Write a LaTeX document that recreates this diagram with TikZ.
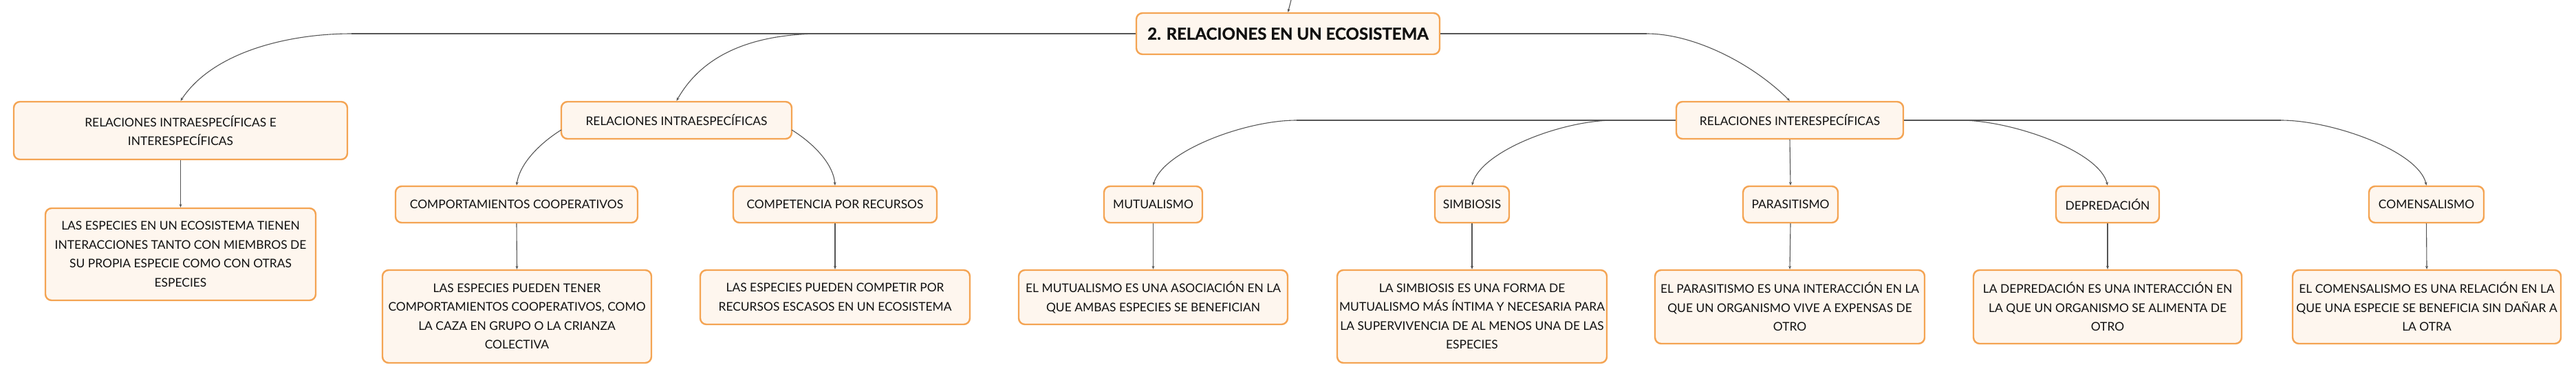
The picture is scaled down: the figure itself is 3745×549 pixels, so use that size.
\documentclass[tikz,border=0pt]{standalone}
\usepackage{fontspec}
\setmainfont{Lato}
\usetikzlibrary{arrows.meta}
\definecolor{boxline}{HTML}{F4A453}
\definecolor{boxfill}{HTML}{FEF6EE}
\definecolor{conn}{HTML}{555555}
\definecolor{txt}{HTML}{111111}
\begin{document}
\begin{tikzpicture}[x=1pt,y=-1pt,
  box/.style={draw=boxline, line width=2.4pt, fill=boxfill, rounded corners=9pt,
    align=center, inner sep=0pt, text=txt, font=\fontsize{17.4}{27.5}\selectfont},
  smallbox/.style={box, minimum height=53pt},
  con/.style={draw=conn, line width=1.1pt, -{Stealth[length=5pt,width=4pt]}},
  trunk/.style={draw=conn, line width=2pt},
]
\useasboundingbox (0,0) rectangle (3745,549);

% ---- nodes ----
\node[box, minimum width=441pt, minimum height=60pt,
      font=\fontsize{24}{28}\selectfont\bfseries\addfontfeatures{FakeBold=1}] (root) at (1872.5,49) {2. RELACIONES EN UN ECOSISTEMA};

\node[box, minimum width=485pt, minimum height=84pt] (A) at (262.5,190)
  {RELACIONES INTRAESPECÍFICAS E\\INTERESPECÍFICAS};
\node[box, minimum width=393pt, minimum height=134pt] (A1) at (262.5,370)
  {LAS ESPECIES EN UN ECOSISTEMA TIENEN\\INTERACCIONES TANTO CON MIEMBROS DE\\SU PROPIA ESPECIE COMO CON OTRAS\\ESPECIES};

\node[box, minimum width=335pt, minimum height=54pt] (B) at (983.5,175) {RELACIONES INTRAESPECÍFICAS};
\node[smallbox, minimum width=352pt] (B1) at (751,297.5) {COMPORTAMIENTOS COOPERATIVOS};
\node[box, minimum width=391pt, minimum height=135pt] (B1a) at (751.5,460.5)
  {LAS ESPECIES PUEDEN TENER\\COMPORTAMIENTOS COOPERATIVOS, COMO\\LA CAZA EN GRUPO O LA CRIANZA\\COLECTIVA};
\node[smallbox, minimum width=296pt] (B2) at (1214,297.5) {COMPETENCIA POR RECURSOS};
\node[box, minimum width=392pt, minimum height=79pt] (B2a) at (1214,432.5)
  {LAS ESPECIES PUEDEN COMPETIR POR\\RECURSOS ESCASOS EN UN ECOSISTEMA};

\node[box, minimum width=330pt, minimum height=54pt] (C) at (2602,175) {RELACIONES INTERESPECÍFICAS};

\node[smallbox, minimum width=143pt] (C1) at (1676.5,297.5) {MUTUALISMO};
\node[box, minimum width=391pt, minimum height=79pt] (C1a) at (1676.5,432.5)
  {EL MUTUALISMO ES UNA ASOCIACIÓN EN LA\\QUE AMBAS ESPECIES SE BENEFICIAN};

\node[smallbox, minimum width=108pt] (C2) at (2140,297.5) {SIMBIOSIS};
\node[box, minimum width=392pt, minimum height=135pt] (C2a) at (2140,460.5)
  {LA SIMBIOSIS ES UNA FORMA DE\\MUTUALISMO MÁS ÍNTIMA Y NECESARIA PARA\\LA SUPERVIVENCIA DE AL MENOS UNA DE LAS\\ESPECIES};

\node[smallbox, minimum width=138pt] (C3) at (2603,297.5) {PARASITISMO};
\node[box, minimum width=392pt, minimum height=107pt] (C3a) at (2602,446.5)
  {EL PARASITISMO ES UNA INTERACCIÓN EN LA\\QUE UN ORGANISMO VIVE A EXPENSAS DE\\OTRO};

\node[smallbox, minimum width=150pt] (C4) at (3064,297.5) {DEPREDACIÓN};
\node[box, minimum width=390pt, minimum height=107pt] (C4a) at (3064,446.5)
  {LA DEPREDACIÓN ES UNA INTERACCIÓN EN\\LA QUE UN ORGANISMO SE ALIMENTA DE\\OTRO};

\node[smallbox, minimum width=167pt] (C5) at (3527.5,297.5) {COMENSALISMO};
\node[box, minimum width=390pt, minimum height=107pt] (C5a) at (3528,446.5)
  {EL COMENSALISMO ES UNA RELACIÓN EN LA\\QUE UNA ESPECIE SE BENEFICIA SIN DAÑAR A\\LA OTRA};

% ---- bend points ----
\coordinate (top) at (1877,0);
\coordinate (bA) at (511,49);
\coordinate (bB) at (1195,49);
\coordinate (bC) at (2394,49);
\coordinate (bC1) at (1885,175);
\coordinate (bC2) at (2346,175);
\coordinate (bC4) at (2850,175);
\coordinate (bC5) at (3316,175);
\coordinate (sBl) at (816,189);
\coordinate (sBr) at (1151,189);

% ---- connectors ----
\draw[con] (top) -- (root.north);

\draw[trunk] (root.west) -- (bA);
\draw[trunk] (root.east) -- (bC);
\draw[con] (bA) .. controls (420,49) and (310,75) .. (A.north);
\draw[con] (bB) .. controls (1105,49) and (1025,73) .. (B.north);
\draw[con] (bC) .. controls (2460,49) and (2545,90) .. (C.north);

\draw[con] (A.south) -- (A1.north);

\draw[con] (sBl) .. controls (790,205) and (756,235) .. (B1.north);
\draw[con] (sBr) .. controls (1177,205) and (1211,235) .. (B2.north);
\draw[con] (B1.south) -- (B1a.north);
\draw[con] (B2.south) -- (B2a.north);

\draw[trunk] (C.west) -- (bC1);
\draw[trunk] (C.east) -- (bC5);
\draw[con] (bC1) .. controls (1810,175) and (1690,220) .. (C1.north);
\draw[con] (bC2) .. controls (2271,175) and (2153,220) .. (C2.north);
\draw[con] (C.south) -- (C3.north);
\draw[con] (bC4) .. controls (2925,175) and (3052,220) .. (C4.north);
\draw[con] (bC5) .. controls (3391,175) and (3516,220) .. (C5.north);

\draw[con] (C1.south) -- (C1a.north);
\draw[con] (C2.south) -- (C2a.north);
\draw[con] (C3.south) -- (C3a.north);
\draw[con] (C4.south) -- (C4a.north);
\draw[con] (C5.south) -- (C5a.north);
\end{tikzpicture}
\end{document}
